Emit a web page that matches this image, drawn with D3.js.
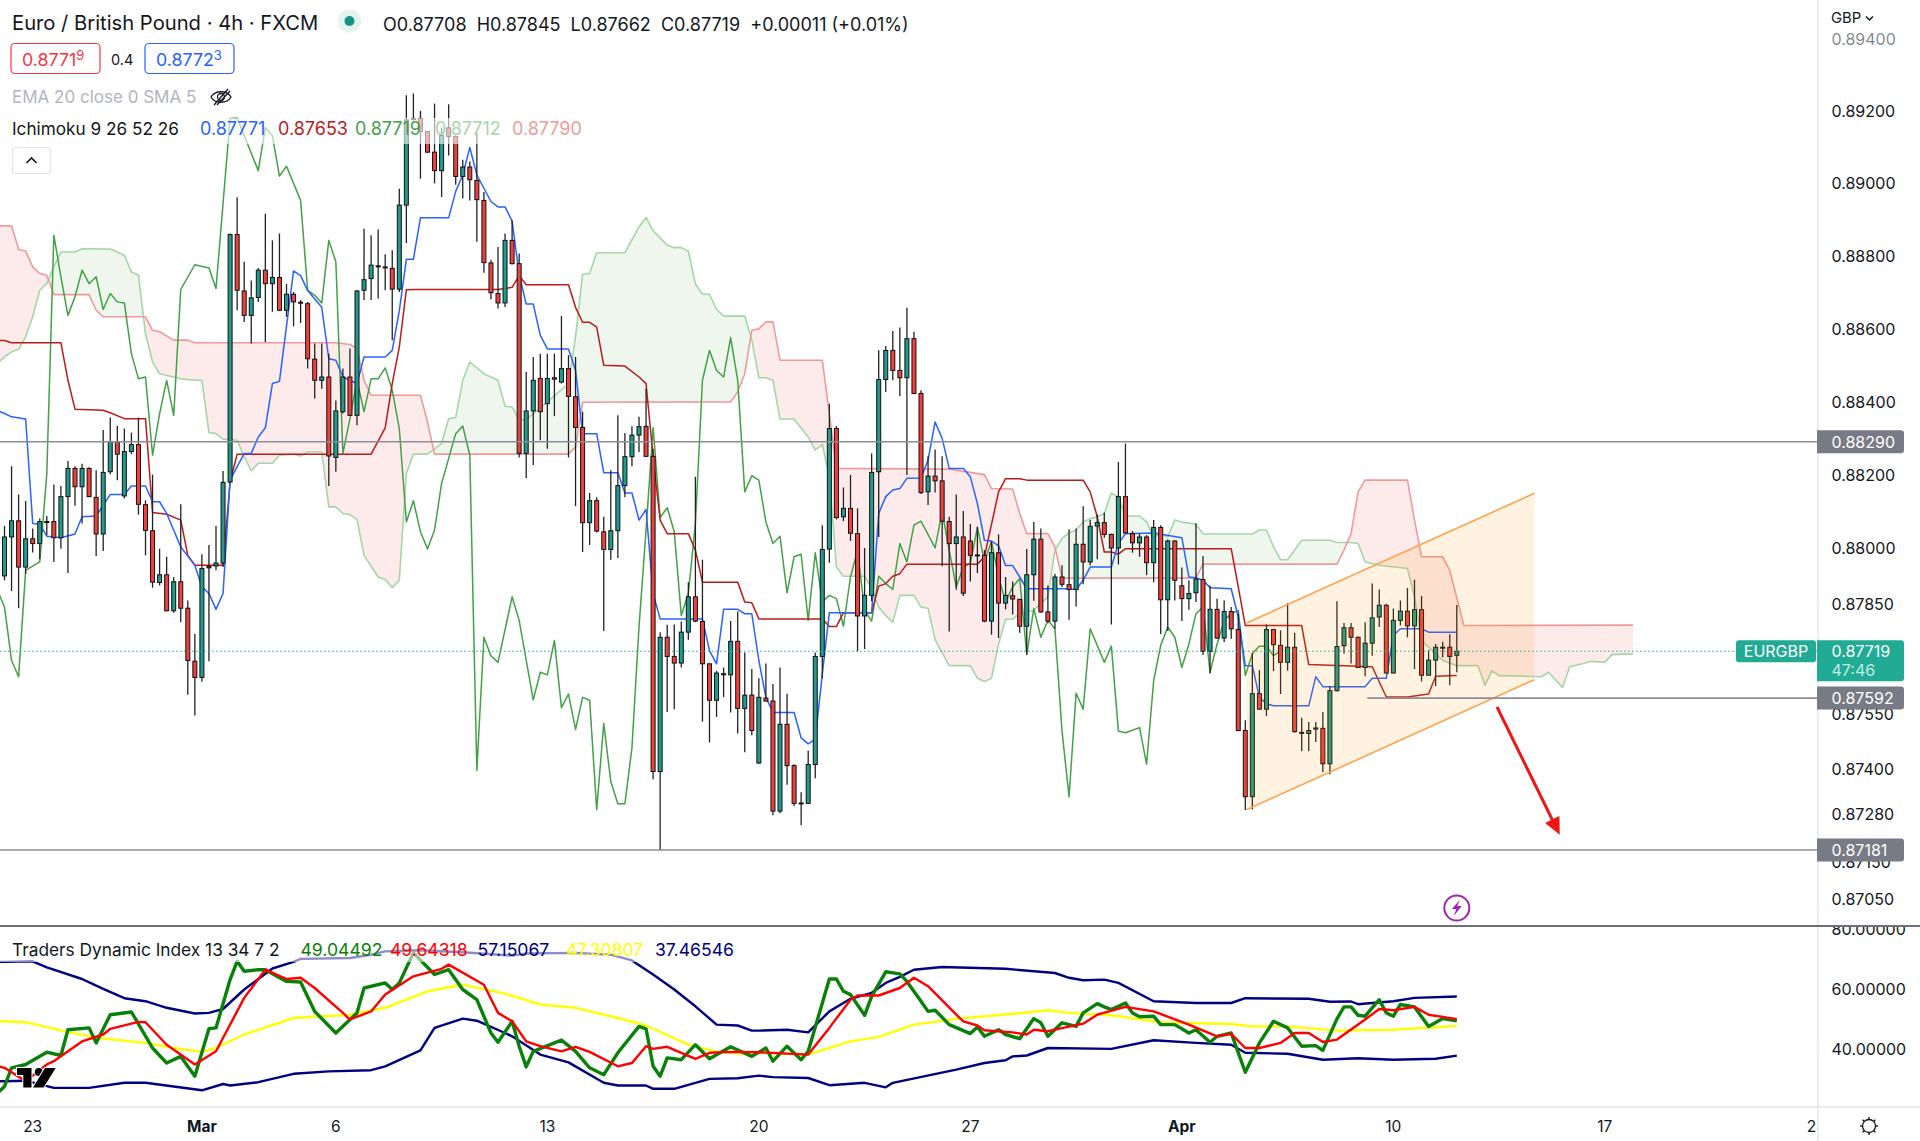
<!DOCTYPE html>
<html><head><meta charset="utf-8">
<script src="https://cdn.jsdelivr.net/npm/d3@7"></script>
<style>html,body{margin:0;padding:0;background:#fff}svg{display:block}text{font-family:Inter,"Liberation Sans",sans-serif}</style>
</head><body><div id="chart"></div>
<script>
// All prices are in points of 0.00001
const PT = 1e5;
const opens = [87924,88030,88074,87948,88025,88012,88070,88072,88028,88140,88217,88167,88217,88138,88038,88208,88290,88142,88263,88282,88118,88047,87906,87927,87829,87908,87836,87692,87648,87950,87951,87959,88180,88858,88703,88636,88685,88760,88723,88740,88650,88694,88672,88668,88516,88458,88467,88247,88372,88467,88362,88705,88737,88770,88767,88765,88708,88939,89178,89178,89142,89085,89034,89152,89128,89018,89044,89007,88952,88780,88696,88670,88842,88778,88258,88374,88463,88394,88465,88453,88490,88413,88329,88069,88129,88044,87996,88047,88170,88249,88308,88332,88250,87393,87757,87705,87687,87771,87867,87800,87685,87586,87658,87655,87746,87564,87600,87416,87592,87584,87286,87521,87409,87308,87307,87412,87705,87997,88326,88085,88108,88039,87815,87871,88208,88460,88540,88485,88465,88572,88422,88153,88196,88183,88072,88012,88030,88019,87981,87980,87801,87987,87850,87870,87860,87787,87927,88024,87826,87801,87921,87900,87887,88010,87962,88060,88069,88037,88000,88140,88039,88014,88030,87960,88056,87859,88019,87897,87862,87878,87914,87719,87833,87755,87827,87778,87504,87325,87604,87562,87778,87735,87689,87730,87499,87496,87508,87510,87414,87612,87734,87783,87757,87675,87741,87812,87844,87660,87803,87828,87788,87832,87654,87695,87730,87730,87708];
const highs = [88060,88223,88146,88128,88053,88080,88087,88173,88169,88237,88223,88230,88220,88212,88322,88356,88333,88326,88315,88356,88130,88200,87998,87976,87921,88119,87857,87766,87983,88008,88060,88210,88861,88961,88783,88732,88766,88915,88842,88861,88722,88700,88678,88673,88559,88559,88531,88403,88490,88545,88705,88874,88856,88872,88804,88815,88984,89242,89247,89199,89144,89219,89153,89217,89131,89064,89059,89138,88975,88789,88824,88861,88897,88806,88481,88522,88531,88531,88531,88634,88527,88522,88372,88150,88138,88085,88212,88362,88314,88332,88358,88435,88271,87771,87791,87792,87800,87907,88194,87968,87686,87666,87675,87801,87827,87716,87671,87646,87686,87630,87675,87604,87413,87337,87450,87716,88062,88394,88333,88165,88199,88108,88000,88258,88540,88552,88593,88603,88657,88591,88431,88250,88269,88250,88085,88146,88101,88065,88058,87994,88018,88037,87921,87909,87862,87997,88071,88053,87898,87930,87953,88051,88053,88114,88076,88091,88097,88039,88235,88285,88046,88039,88035,88076,88062,88023,88021,87947,87912,88067,87978,87897,87862,87857,87839,87821,87532,87714,87668,87792,87780,87776,87850,87769,87539,87527,87527,87554,87625,87855,87796,87796,87759,87798,87903,87887,87848,87835,87857,87891,87914,87869,87723,87739,87745,87765,87845];
const lows = [87912,87883,87836,87930,87988,87969,88035,87962,87998,87932,88115,88067,88138,87978,87992,88201,88185,88135,88256,88091,87980,87892,87898,87828,87824,87798,87601,87545,87636,87692,87939,87948,88176,88650,88618,88559,88673,88563,88646,88648,88632,88606,88615,88490,88408,88435,88169,88208,88367,88360,88335,88678,88678,88682,88705,88568,88700,88835,89172,89012,89083,88999,88961,89076,88995,88957,88952,88838,88753,88680,88655,88659,88776,88247,88191,88226,88294,88271,88360,88449,88247,88114,87989,88008,88042,87774,87968,87973,88138,88223,88262,88249,87372,87181,87554,87562,87675,87750,87798,87528,87472,87541,87595,87553,87496,87445,87491,87414,87583,87275,87280,87357,87300,87248,87305,87375,87645,87960,88078,88073,88019,87719,87725,87855,88030,88426,88458,88415,88199,88420,88147,88117,88151,87950,87773,87886,87869,87909,87932,87798,87764,87755,87833,87819,87769,87710,87856,87824,87796,87780,87894,87805,87841,87901,87953,87969,88028,87792,87955,88038,87987,87976,87926,87907,87766,87774,87857,87801,87832,87853,87709,87659,87753,87744,87753,87502,87289,87291,87560,87543,87665,87603,87666,87498,87448,87448,87473,87391,87386,87610,87712,87686,87674,87651,87707,87785,87659,87659,87789,87757,87671,87637,87653,87625,87703,87627,87662];
const closes = [88030,88074,87948,88025,88012,88072,88072,88028,88140,88217,88167,88217,88140,88038,88206,88290,88256,88263,88282,88119,88048,87907,87927,87829,87908,87836,87694,87648,87944,87946,87959,88179,88858,88705,88636,88684,88760,88723,88740,88650,88694,88673,88670,88517,88458,88467,88251,88374,88467,88362,88703,88734,88774,88772,88769,88708,88939,89174,89176,89142,89085,89034,89131,89128,89018,89044,89009,88954,88781,88698,88670,88842,88778,88258,88374,88458,88372,88463,88461,88490,88414,88329,88069,88129,88046,87996,88047,88170,88249,88308,88331,88250,87393,87757,87705,87687,87771,87867,87801,87685,87586,87660,87656,87746,87564,87600,87504,87594,87584,87286,87521,87409,87307,87306,87412,87705,87996,88326,88083,88108,88040,87815,87871,88206,88460,88540,88485,88465,88572,88422,88151,88196,88183,88073,88012,88030,87877,87980,87979,87801,87987,87850,87871,87861,87787,87927,88024,87826,87801,87921,87901,87887,88010,87962,88059,88069,88037,88000,88140,88041,88014,88030,87960,88056,87859,88019,87912,87862,87876,87915,87719,87833,87755,87827,87780,87504,87325,87604,87562,87778,87737,87689,87730,87501,87497,87504,87511,87414,87612,87732,87783,87757,87675,87741,87810,87844,87660,87803,87828,87788,87832,87654,87695,87730,87728,87705,87719];

// Ichimoku lines as [bar, price points]
const tenkan = [[-1,88375],[0,88367],[1,88358],[3,88352],[4,88067],[5,88065],[6,88032],[8,88028],[10,88038],[11,88085],[13,88087],[15,88146],[17,88146],[18,88169],[20,88169],[21,88126],[22,88126],[23,88094],[25,88003],[27,87953],[28,87894],[29,87876],[30,87833],[31,87876],[32,88185],[34,88258],[35,88258],[36,88303],[37,88328],[38,88449],[39,88455],[41,88758],[42,88745],[43,88704],[45,88658],[46,88517],[47,88513],[48,88467],[50,88449],[51,88522],[54,88522],[55,88540],[56,88649],[57,88790],[58,88790],[59,88904],[63,88904],[64,88977],[65,89022],[66,89098],[67,89022],[69,88949],[70,88934],[71,88934],[72,88895],[73,88749],[74,88667],[75,88667],[76,88581],[77,88544],[80,88544],[81,88485],[82,88312],[84,88312],[85,88205],[87,88205],[88,88150],[89,88150],[90,88076],[91,88105],[92,87876],[93,87807],[99,87807],[100,87721],[101,87685],[102,87833],[104,87833],[105,87821],[106,87821],[107,87694],[108,87594],[109,87553],[112,87553],[113,87484],[114,87468],[115,87480],[116,87657],[117,87824],[123,87824],[124,88094],[125,88140],[126,88158],[127,88162],[128,88190],[130,88191],[131,88240],[132,88344],[133,88299],[134,88217],[136,88217],[137,88194],[138,88121],[139,88021],[140,88019],[141,88006],[142,87952],[143,87952],[144,87921],[145,87889],[151,87889],[152,87887],[153,87912],[154,87948],[157,87948],[158,88012],[159,88039],[163,88041],[167,88028],[168,87921],[169,87919],[170,87912],[171,87892],[174,87889],[175,87812],[176,87680],[177,87680],[178,87594],[179,87577],[180,87571],[185,87571],[186,87650],[187,87623],[193,87623],[194,87646],[196,87646],[197,87762],[198,87780],[201,87780],[202,87771],[206,87771]];
const kijun = [[-1,88567],[0,88567],[1,88561],[8,88561],[9,88458],[10,88379],[14,88376],[15,88369],[17,88353],[20,88353],[21,88097],[23,88092],[25,88076],[26,87980],[27,87953],[31,87953],[32,88180],[33,88256],[52,88256],[54,88328],[55,88449],[56,88549],[57,88706],[58,88707],[70,88707],[72,88713],[73,88745],[74,88720],[80,88720],[81,88658],[82,88617],[83,88617],[84,88604],[85,88499],[88,88497],[90,88467],[91,88449],[92,88249],[93,88076],[94,88039],[97,88039],[98,87994],[99,87907],[104,87907],[105,87853],[106,87851],[107,87807],[116,87807],[117,87786],[118,87786],[119,87824],[123,87824],[124,87896],[125,87903],[126,87923],[127,87930],[128,87956],[138,87956],[139,87976],[141,88153],[142,88189],[144,88189],[145,88185],[153,88185],[154,88153],[155,88085],[156,87989],[157,87989],[158,87983],[159,87998],[174,87998],[175,87894],[176,87789],[184,87789],[185,87683],[194,87677],[196,87595],[199,87595],[202,87603],[203,87651],[206,87653]];
const chikou = [[-1,87885],[0,87839],[1,87694],[2,87650],[3,87939],[5,87962],[6,88203],[7,88856],[8,88742],[9,88636],[10,88687],[11,88760],[12,88723],[13,88742],[14,88652],[15,88696],[16,88673],[17,88670],[18,88531],[19,88462],[20,88467],[21,88253],[22,88367],[23,88458],[24,88362],[25,88707],[27,88775],[29,88766],[30,88710],[32,89178],[33,89179],[36,89034],[37,89153],[38,89130],[39,89019],[40,89046],[42,88952],[43,88705],[44,88691],[45,88670],[46,88842],[47,88783],[48,88258],[49,88353],[50,88458],[51,88372],[52,88462],[53,88462],[54,88492],[55,88431],[56,88326],[57,88071],[58,88129],[59,88044],[60,87997],[61,88049],[62,88176],[64,88312],[65,88333],[66,88253],[67,87396],[68,87757],[69,87707],[70,87689],[72,87867],[73,87803],[75,87587],[76,87662],[77,87655],[78,87748],[79,87566],[80,87603],[81,87507],[82,87594],[83,87586],[84,87290],[85,87523],[86,87366],[87,87306],[88,87306],[89,87457],[90,87785],[91,88049],[92,88329],[93,88083],[94,88110],[95,88044],[96,87816],[97,87876],[98,88067],[99,88458],[100,88540],[101,88485],[102,88467],[103,88575],[104,88458],[105,88153],[106,88197],[107,88185],[108,88071],[109,88012],[110,88032],[111,87878],[112,87976],[113,87983],[114,87803],[115,87987],[116,87853],[117,87871],[118,87862],[119,87787],[120,87921],[121,87994],[122,87830],[123,87801],[124,87923],[125,87903],[126,87887],[127,88012],[128,87962],[129,88062],[130,88073],[132,88000],[133,88099],[134,87994],[135,87894],[136,87948],[137,87958],[138,88056],[139,87962],[140,88018],[141,87921],[142,87853],[143,87894],[144,87917],[145,87710],[146,87835],[147,87757],[148,87803],[149,87780],[150,87503],[151,87325],[152,87605],[153,87562],[154,87780],[155,87735],[156,87689],[157,87733],[158,87503],[159,87498],[161,87512],[162,87413],[163,87639],[164,87735],[165,87785],[166,87757],[167,87675],[168,87739],[169,87821],[170,87839],[171,87662],[172,87739],[173,87803],[174,87821],[175,87830],[176,87653],[177,87712],[178,87733],[179,87733],[180,87707],[181,87719]];
const senkouA = [[-1,88505],[0,88522],[1,88536],[2,88543],[3,88577],[4,88632],[5,88705],[6,88723],[7,88769],[8,88810],[10,88810],[11,88819],[15,88818],[17,88801],[18,88755],[19,88746],[20,88586],[21,88508],[22,88476],[25,88462],[27,88458],[28,88458],[29,88315],[30,88312],[31,88297],[33,88294],[34,88249],[35,88210],[36,88231],[38,88231],[39,88253],[41,88256],[42,88251],[43,88262],[45,88262],[46,88112],[47,88112],[48,88094],[49,88091],[50,88078],[51,87980],[53,87921],[54,87914],[55,87892],[56,87912],[57,88203],[58,88256],[60,88256],[62,88285],[63,88353],[64,88356],[65,88458],[66,88508],[68,88476],[70,88458],[71,88387],[72,88385],[73,88349],[74,88351],[77,88399],[80,88449],[81,88577],[82,88749],[83,88751],[84,88808],[88,88808],[90,88879],[91,88905],[92,88868],[94,88829],[95,88822],[96,88822],[97,88812],[98,88722],[99,88694],[100,88694],[101,88652],[102,88634],[105,88634],[106,88568],[107,88465],[108,88465],[109,88458],[110,88352],[112,88352],[114,88303],[115,88267],[116,88283],[117,88194],[118,87948],[119,87923],[122,87923],[123,87889],[124,87839],[125,87816],[126,87798],[127,87871],[129,87871],[130,87839],[131,87836],[132,87750],[134,87680],[137,87680],[138,87646],[139,87637],[140,87646],[141,87739],[142,87806],[143,87806],[144,87821],[146,87830],[148,87867],[149,87994],[150,88026],[151,88041],[152,88049],[153,88071],[154,88080],[155,88085],[156,88094],[157,88150],[158,88138],[159,88087],[161,88087],[162,88071],[163,88030],[164,88039],[165,88030],[166,88076],[167,88071],[169,88065],[170,88038],[177,88038],[178,88049],[179,88049],[180,88003],[181,87968],[182,87968],[184,88021],[188,88021],[189,88015],[191,88015],[192,88012],[193,87962],[195,87953],[199,87944],[200,87867],[201,87748],[202,87730],[204,87694],[206,87680],[209,87680],[210,87627],[211,87666],[212,87653],[218,87650],[219,87662],[221,87621],[222,87677],[224,87686],[225,87692],[227,87689],[228,87710],[231,87712]];
const senkouB = [[-1,88882],[1,88882],[2,88817],[3,88813],[4,88769],[5,88751],[6,88746],[7,88693],[12,88693],[13,88650],[14,88632],[20,88632],[21,88595],[22,88591],[24,88568],[26,88568],[27,88561],[47,88561],[49,88556],[50,88545],[51,88458],[52,88417],[59,88417],[60,88344],[61,88256],[80,88256],[81,88276],[82,88398],[103,88399],[104,88426],[105,88476],[106,88595],[107,88599],[108,88618],[109,88618],[110,88513],[116,88513],[117,88367],[118,88217],[134,88215],[139,88200],[140,88162],[143,88161],[144,88094],[145,88039],[148,88039],[149,88003],[150,87918],[169,87918],[170,87956],[189,87956],[190,87994],[191,88039],[192,88153],[193,88185],[199,88185],[200,88076],[201,87976],[204,87976],[205,87939],[207,87789],[231,87790]];

// Traders Dynamic Index as [bar, value]
const tdiGreen = [[-1,25],[0,27.2],[1,33.4],[3,34.5],[6,38.6],[8,37.5],[9,46.1],[12,46.7],[13,41.7],[15,51.1],[18,52],[21,40],[23,35],[25,37.2],[27,30.6],[29,46.4],[30,46.7],[32,62.8],[33,68.9],[34,65.6],[36,66.1],[37,66.1],[40,62.2],[42,62],[44,52.2],[47,45],[50,51.7],[51,60],[54,61.7],[55,59.5],[56,61.7],[58,71.7],[61,64.5],[63,66.1],[65,59.5],[67,56.1],[69,45],[70,41.9],[72,48.9],[73,40.6],[74,33.7],[75,38.9],[79,42.6],[81,38.9],[83,33.4],[85,31.1],[87,38.4],[90,47.2],[91,46.4],[92,33.9],[93,30.6],[94,36.7],[96,36.1],[98,41.1],[100,36.4],[103,40.4],[106,37.2],[108,40],[109,35.6],[111,40.6],[113,36.1],[114,38.9],[117,63],[118,63],[119,58.9],[120,57.8],[122,50.9],[123,57.2],[125,65.4],[127,64.7],[128,62.2],[130,55.6],[131,52.2],[132,52.6],[134,47.8],[137,44.8],[138,47],[139,43.9],[141,46.1],[142,44.5],[144,43.1],[146,49.8],[147,48.4],[148,43.9],[150,48.4],[152,47.2],[153,51.7],[155,54.8],[156,53.7],[157,52.8],[159,55],[160,51.7],[161,50.4],[163,50.6],[164,47.8],[166,47.8],[168,45],[169,46.1],[171,41.9],[172,43.9],[174,45],[176,31.9],[178,41.7],[180,48.9],[182,46.7],[184,40.6],[186,40.8],[187,39.2],[189,49.7],[190,53.7],[191,53.7],[192,50.9],[193,50.6],[195,56.1],[196,51.7],[197,50.6],[198,54.5],[200,53.7],[202,47.2],[204,49.8],[206,49.04]];
const tdiRed = [[-1,34],[0,33.4],[3,28.9],[6,34.5],[7,35.6],[9,38.9],[11,42.2],[14,44.5],[15,46.4],[19,48.7],[20,48.6],[23,41.1],[27,34.5],[30,38.9],[34,56.7],[37,66.1],[40,63],[42,63.4],[44,60],[48,51.7],[49,49.5],[52,52.2],[54,57.8],[58,63.9],[62,66.4],[63,67.8],[68,61.1],[70,51.7],[72,48.9],[74,42.2],[76,40.6],[79,38.9],[81,40.4],[83,38.7],[87,33.9],[89,35],[91,40.6],[92,39.7],[94,40.4],[98,36.4],[100,38.4],[103,38.7],[107,38.6],[114,37.8],[117,46.7],[120,56.1],[121,57.5],[124,57.5],[127,60],[129,63.4],[131,60.6],[135,51.1],[136,48.9],[138,47.5],[139,45.9],[143,45.2],[145,44.5],[146,46.1],[148,45.6],[153,48.1],[155,51.1],[159,53.7],[163,52.2],[168,47.8],[172,43.9],[174,44.7],[176,40],[178,40],[181,41.7],[183,45],[185,45],[187,42],[189,42.8],[193,49.5],[195,53],[197,52.6],[200,53.7],[202,51.1],[206,49.64]];
const tdiYellow = [[-1,48.9],[0,48.9],[3,48.6],[8,45.9],[13,43.4],[20,41.7],[24,40],[28,38.7],[30,40],[34,44.5],[41,50],[49,51.1],[54,53.4],[60,58.9],[65,61.1],[71,58.1],[76,54.5],[81,53.4],[87,50],[91,47.5],[97,41.1],[101,38.8],[106,37.8],[107,38.4],[114,37.8],[120,42.2],[124,43.7],[129,47.8],[135,49.7],[143,51.4],[148,52.6],[151,51.7],[157,50.9],[164,48.6],[174,48],[177,47.2],[182,47.2],[189,45.8],[197,46.1],[206,47.31]];
const tdiUpper = [[-1,68.7],[0,68.7],[4,68.9],[6,66.9],[11,63],[14,59.7],[17,56.6],[20,55.6],[23,53.4],[27,51.5],[29,51.7],[31,53],[34,59.5],[38,66.5],[41,68.7],[42,69.7],[49,70],[52,71.1],[54,72.2],[59,72.6],[65,71.9],[72,70.8],[74,71.5],[81,71.7],[86,71.1],[89,69.2],[92,64.5],[95,59.5],[98,53.9],[101,47.8],[104,47.5],[106,45.8],[107,45.8],[111,46.1],[114,45.2],[117,52.2],[120,56.4],[123,58.4],[125,61.7],[127,63.7],[129,66.1],[133,67],[142,66.4],[149,65],[151,63.4],[153,62.6],[156,62.8],[158,61.7],[163,55.6],[169,55],[174,55],[176,56.6],[185,56.4],[188,55.4],[191,55.5],[192,54.6],[194,55],[197,55.6],[200,56.7],[206,57.15]];
const tdiLower = [[-1,28.9],[0,28.9],[3,29.1],[7,26.7],[12,26.7],[17,28.4],[20,28.4],[28,25.9],[31,28],[32,27.5],[36,28.6],[41,31.4],[46,32.2],[52,32.6],[54,33.9],[59,39.2],[61,46.7],[65,49.8],[67,49.1],[71,45],[72,43.9],[76,37.8],[80,35.2],[85,28.4],[87,27.5],[91,27.5],[92,26.4],[95,26.4],[100,29.7],[104,29.9],[107,30.8],[109,30.3],[114,30],[117,27.6],[122,28.4],[125,26.9],[126,28.4],[135,32.8],[139,35],[142,35.9],[143,37.2],[145,37.5],[148,40],[157,39.7],[163,42.6],[169,41.7],[174,41.1],[176,38.4],[182,38.1],[187,36.1],[192,36.6],[197,36.1],[203,36.4],[206,37.47]];

// Drawn objects, as [bar, price points]
const channelTop = [[176.2,87796],[217,88149]];
const channelBottom = [[176.2,87290],[217,87642]];
const arrowLine = [[211.7,87568],[220.6,87222]];
const levelFull = [88290,87181];
const levelPartial = {from:193.3, price:87592};
const lastPrice = 87719;

const priceTicks = [0.894,0.892,0.89,0.888,0.886,0.884,0.882,0.88,0.8785,0.8755,0.874,0.8728,0.8715,0.8705];
const tdiTicks = [80,60,40];
const timeBars = [4,28,47,77,107,137,167,197,227,257];
const timeLabels = ["23","Mar","6","13","20","27","Apr","10","17","24"];
const boldLabels = ["Mar","Apr"];

const W=1920,H=1141,AX=1818,PANE=927,TIME=1107;
const x=d3.scaleLinear().domain([0,206]).range([4.5,4.5+206*7.05]);
const y=d3.scaleLog().domain([0.8829,0.87181]).range([441.7,850]);
const yT=d3.scaleLinear().domain([40,60]).range([1048,988]);
const py=p=>y(p/PT);
const svg=d3.select("#chart").append("svg").attr("width",W).attr("height",H);
const defs=svg.append("defs");
const mkClip=(id,a,b,c,d)=>defs.append("clipPath").attr("id",id).append("rect").attr("x",a).attr("y",b).attr("width",c).attr("height",d);
mkClip("mainClip",0,0,AX,PANE);mkClip("tdiClip",0,PANE,AX,TIME-PANE);mkClip("tdiAx",AX,PANE,W-AX,TIME-PANE);mkClip("timeClip",0,TIME,1816.5,H-TIME);
const aAbove=d3.area().x(d=>x(d[0])).y0(0).y1(d=>py(d[1]));
const aBelow=d3.area().x(d=>x(d[0])).y0(H).y1(d=>py(d[1]));
defs.append("clipPath").attr("id","aboveB").append("path").attr("d",aAbove(senkouB));
defs.append("clipPath").attr("id","belowB").append("path").attr("d",aBelow(senkouB));
const main=svg.append("g").attr("clip-path","url(#mainClip)");
const line=d3.line().x(d=>x(d[0])).y(d=>py(d[1]));
// cloud
main.append("g").attr("clip-path","url(#aboveB)").append("path").attr("d",aBelow(senkouA)).attr("fill","#43a047").attr("fill-opacity",0.09);
main.append("g").attr("clip-path","url(#belowB)").append("path").attr("d",aAbove(senkouA)).attr("fill","#e53935").attr("fill-opacity",0.10);
const stroke=(g,d,c,w,l)=>g.append("path").attr("d",(l||line)(d)).attr("fill","none").attr("stroke",c).attr("stroke-width",w).attr("stroke-linejoin","round");
stroke(main,senkouA,"#a5d6a7",1.6);
stroke(main,senkouB,"#ef9a9a",1.6);
stroke(main,chikou,"#43a047",1.5);
stroke(main,kijun,"#b71c1c",1.5);
stroke(main,tenkan,"#2962ff",1.5);
// candles
const bars=d3.range(opens.length).map(i=>({i,o:opens[i],h:highs[i],l:lows[i],c:closes[i]}));
const cg=main.append("g");
cg.selectAll("line").data(bars).join("line").attr("x1",d=>x(d.i)).attr("x2",d=>x(d.i)).attr("y1",d=>py(d.h)).attr("y2",d=>py(d.l)).attr("stroke","#222").attr("stroke-width",1.3);
cg.selectAll("rect").data(bars).join("rect").attr("x",d=>x(d.i)-2).attr("width",4).attr("y",d=>py(Math.max(d.o,d.c))).attr("height",d=>Math.max(1,py(Math.min(d.o,d.c))-py(Math.max(d.o,d.c))))
 .attr("fill",d=>d.c>=d.o?"#1f9c8c":"#ef4040").attr("stroke","#111").attr("stroke-width",1);
// channel
const chPoly=[...channelTop,...channelBottom.slice().reverse()];
main.append("path").attr("d",line(chPoly)+"Z").attr("fill","#ff9800").attr("fill-opacity",0.12);
stroke(main,channelTop,"#ffa24d",1.6);stroke(main,channelBottom,"#ffa24d",1.6);
// levels
levelFull.forEach(p=>main.append("line").attr("x1",0).attr("x2",AX).attr("y1",py(p)).attr("y2",py(p)).attr("stroke","#8b8d96").attr("stroke-width",1.6));
main.append("line").attr("x1",x(levelPartial.from)).attr("x2",AX).attr("y1",py(levelPartial.price)).attr("y2",py(levelPartial.price)).attr("stroke","#8b8d96").attr("stroke-width",1.6);
main.append("line").attr("x1",0).attr("x2",AX).attr("y1",py(lastPrice)).attr("y2",py(lastPrice)).attr("stroke","#22ab94").attr("stroke-width",1.1).attr("stroke-dasharray","1.5 2.5");
// arrow
const ax0=x(arrowLine[0][0]),ay0=py(arrowLine[0][1]),ax1=x(arrowLine[1][0]),ay1=py(arrowLine[1][1]);
const len=Math.hypot(ax1-ax0,ay1-ay0),ux=(ax1-ax0)/len,uy=(ay1-ay0)/len;
main.append("line").attr("x1",ax0).attr("y1",ay0).attr("x2",ax1-ux*12).attr("y2",ay1-uy*12).attr("stroke","#f01414").attr("stroke-width",3);
main.append("path").attr("d",`M${ax1},${ay1}L${ax1-ux*17+uy*8},${ay1-uy*17-ux*8}L${ax1-ux*17-uy*8},${ay1-uy*17+ux*8}Z`).attr("fill","#f01414");
// bolt marker
const bx=x(206),by=908;
main.append("circle").attr("cx",bx).attr("cy",by).attr("r",12.5).attr("fill","#fff").attr("stroke","#9c27b0").attr("stroke-width",2);
main.append("path").attr("d",`M${bx+3},${by-8}L${bx-5},${by+1}H${bx-0.5}L${bx-3},${by+8}L${bx+5},${by-2}H${bx+0.5}Z`).attr("fill","#9c27b0");
// legend backing
main.append("rect").attr("x",0).attr("y",118).attr("width",585).attr("height",26).attr("fill","#fff").attr("fill-opacity",0.6);
// main legend
const T=(s,px,pyy,size,fill,anchor,weight)=>svg.append("text").attr("x",px).attr("y",pyy).attr("font-size",size).attr("fill",fill).attr("dominant-baseline","central").attr("text-anchor",anchor||"start").attr("font-weight",weight||400).text(s);
T("Euro / British Pound · 4h · FXCM",12,22,20.2,"#131722");
svg.append("circle").attr("cx",349.5).attr("cy",21).attr("r",11.5).attr("fill","#e3f4f0");
svg.append("circle").attr("cx",349.5).attr("cy",21).attr("r",5).attr("fill","#149485");
T("O0.87708  H0.87845  L0.87662  C0.87719  +0.00011 (+0.01%)",383,24,18,"#131722").style("white-space","pre");
const box=(bx0,c,t,s)=>{svg.append("rect").attr("x",bx0).attr("y",43.5).attr("width",89).attr("height",30).attr("rx",4).attr("fill","#fff").attr("stroke",c).attr("stroke-width",1.2);
 const tx=T(t,bx0+11,59,17.8,c);tx.append("tspan").attr("font-size",13).attr("dy",-4).text(s);};
box(11,"#f23645","0.8771","9");
T("0.4",111,59,14.5,"#131722");
box(145,"#2962ff","0.8772","3");
T("EMA 20 close 0 SMA 5",12,97,17,"#b2b5be");
const eye=svg.append("g").attr("transform","translate(221,97)").attr("fill","none").attr("stroke","#131722").attr("stroke-width",1.3);
eye.append("path").attr("d","M-10,0C-6,-7 6,-7 10,0C6,7 -6,7 -10,0Z");eye.append("circle").attr("r",3.5);eye.append("path").attr("d","M-7,8L7,-8M-4,8L9,-6");
T("Ichimoku 9 26 52 26",12,128,17.2,"#131722");
[["0.87771",200,"#2962ff"],["0.87653",278,"#b71c1c"],["0.87719",355,"#43a047"],["0.87712",435,"#a5d6a7"],["0.87790",512,"#ef9a9a"]].forEach(d=>T(d[0],d[1],128,18,d[2]));
svg.append("rect").attr("x",12.5).attr("y",147.5).attr("width",38).attr("height",26).attr("rx",3).attr("fill","#fff").attr("stroke","#e0e3eb").attr("stroke-width",1.2);
svg.append("path").attr("d","M26.5,163L31.5,158L36.5,163").attr("fill","none").attr("stroke","#131722").attr("stroke-width",1.6);
// TDI pane
const tdi=svg.append("g").attr("clip-path","url(#tdiClip)");
const lineT=d3.line().x(d=>x(d[0])).y(d=>yT(d[1]));
stroke(tdi,tdiUpper,"#000080",2.4,lineT);
stroke(tdi,tdiLower,"#000080",2.4,lineT);
stroke(tdi,tdiYellow,"#ffff00",2.4,lineT);
stroke(tdi,tdiGreen,"#098009",3.4,lineT);
stroke(tdi,tdiRed,"#ff0000",2.4,lineT);
tdi.append("rect").attr("x",0).attr("y",937).attr("width",745).attr("height",25).attr("fill","#fff").attr("fill-opacity",0.55);
T("Traders Dynamic Index 13 34 7 2",12,949,17.3,"#131722");
[["49.04492",300.5,"#098009"],["49.64318",390,"#ff0000"],["57.15067",477.5,"#000080"],["47.30807",566,"#ffff00"],["37.46546",655,"#000080"]].forEach(d=>T(d[0],d[1],949,17.6,d[2]));
// TradingView mark
const logo=svg.append("g").attr("fill","#000").attr("stroke","#fff").attr("stroke-width",2).attr("paint-order","stroke");
logo.append("path").attr("d","M17,1068H31.5V1087.5H23.3V1075H17Z");
logo.append("circle").attr("cx",38.8).attr("cy",1072).attr("r",4);
logo.append("path").attr("d","M55.7,1068H45L33,1087.5H43.6Z");
// price axis
svg.append("rect").attr("x",AX).attr("y",0).attr("width",W-AX).attr("height",H).attr("fill","#fff");
svg.append("line").attr("x1",AX).attr("x2",AX).attr("y1",0).attr("y2",H).attr("stroke","#e8e9ed").attr("stroke-width",1.6);
const yAxis=d3.axisRight(y).tickValues(priceTicks).tickFormat(d3.format(".5f")).tickSize(0).tickPadding(0);
const gy=svg.append("g").attr("transform",`translate(${AX+13.5},0)`).call(yAxis);
gy.select(".domain").remove();
gy.selectAll("text").attr("font-size",16).attr("fill","#131722").attr("font-family","Inter").attr("x",0).attr("dy",null).attr("dominant-baseline","central");
gy.selectAll("text").filter(d=>d===0.894).attr("fill-opacity",0.55);
T("GBP",1831,18,14.8,"#131722");
svg.append("path").attr("d","M1866,16.5L1869.5,20L1873,16.5").attr("fill","none").attr("stroke","#131722").attr("stroke-width",1.5);
const tag=(p,label)=>{const Y=py(p);svg.append("path").attr("d",`M${AX-1},${Y-11.5}H1901a3,3 0 0 1 3,3V${Y+8.5}a3,3 0 0 1 -3,3H${AX-1}Z`).attr("fill","#787b86");T(label,1831.5,Y,16,"#fff");};
tag(88290,"0.88290");tag(87592,"0.87592");tag(87181,"0.87181");
const ly=py(lastPrice);
svg.append("path").attr("d",`M${AX-1},${ly-11}H1901a3,3 0 0 1 3,3V${ly+27}a3,3 0 0 1 -3,3H${AX-1}Z`).attr("fill","#22ab94");
T("0.87719",1831.5,ly,16,"#fff");T("47:46",1831.5,ly+18.5,16,"#c3ebe4");
svg.append("rect").attr("x",1736).attr("y",ly-11).attr("width",80).attr("height",22).attr("rx",3).attr("fill","#22ab94");
T("EURGBP",1776,ly,16,"#fff","middle");
// TDI axis
const gT=svg.append("g").attr("clip-path","url(#tdiAx)");
const tAxis=d3.axisRight(yT).tickValues(tdiTicks).tickFormat(d3.format(".5f")).tickSize(0).tickPadding(0);
const gt2=gT.append("g").attr("transform",`translate(${AX+13.5},0)`).call(tAxis);
gt2.select(".domain").remove();
gt2.selectAll("text").attr("font-size",16).attr("fill","#131722").attr("font-family","Inter").attr("x",0).attr("dy",null).attr("dominant-baseline","central");
// separators
svg.append("line").attr("x1",0).attr("x2",W).attr("y1",926).attr("y2",926).attr("stroke","#6f7178").attr("stroke-width",1.8);
svg.append("line").attr("x1",0).attr("x2",W).attr("y1",1107).attr("y2",1107).attr("stroke","#e8eaef").attr("stroke-width",2);
// time axis
const tg=svg.append("g").attr("clip-path","url(#timeClip)");
timeBars.forEach((b,k)=>{const bold=boldLabels.includes(timeLabels[k]);tg.append("text").attr("x",x(b)).attr("y",1126).attr("font-size",15.5).attr("text-anchor","middle").attr("dominant-baseline","central").attr("fill","#131722").attr("font-weight",bold?700:400).text(timeLabels[k]);});
// gear
const gear=svg.append("g").attr("transform","translate(1869,1126)").attr("fill","none").attr("stroke","#131722").attr("stroke-width",1.3);
gear.append("circle").attr("r",6.5);
d3.range(8).forEach(k=>{const a=k*Math.PI/4;gear.append("line").attr("x1",6.5*Math.cos(a)).attr("y1",6.5*Math.sin(a)).attr("x2",9*Math.cos(a)).attr("y2",9*Math.sin(a)).attr("stroke-width",1.4);});
</script></body></html>
